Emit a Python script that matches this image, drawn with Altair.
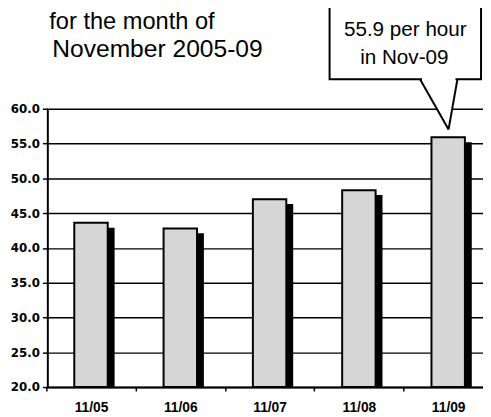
import altair as alt
import pandas as pd

categories = ["11/05", "11/06", "11/07", "11/08", "11/09"]
values = [43.6, 42.8, 47.0, 48.3, 55.9]
y_ticks = [20, 25, 30, 35, 40, 45, 50, 55, 60]
y_base = 20
title_lines = ["for the month of", "November 2005-09"]
callout_lines = ["55.9 per hour", "in Nov-09"]

df = pd.DataFrame({"month": categories, "rate": values})
one = pd.DataFrame({"k": [0]})

x_enc = alt.X("month:N", sort=categories, title=None,
              scale=alt.Scale(range=[-1, 453], paddingInner=0, paddingOuter=0),
              axis=alt.Axis(labelAngle=0, labelFont="Liberation Sans", labelFontWeight="bold",
                            labelFontSize=14, labelColor="black", labelPadding=10,
                            tickBand="extent", tickSize=4, tickColor="black", tickWidth=1.5,
                            domain=True, domainColor="black", domainWidth=2, grid=False))
y_enc = alt.Y("rate:Q", title=None,
              scale=alt.Scale(domain=[20, 60], nice=False, zero=False),
              axis=alt.Axis(values=y_ticks, format=".1f", labelFont="DejaVu Sans",
                            labelFontWeight="bold", labelFontSize=12, labelColor="black",
                            labelPadding=3, tickSize=5, tickColor="black", tickWidth=1.5,
                            domainColor="black", domainWidth=2,
                            grid=True, gridColor="black", gridWidth=1.5))

shadow = alt.Chart(df).mark_bar(color="black", width=36, xOffset=6, yOffset=5).encode(
    x=x_enc, y=y_enc, y2=alt.datum(y_base))
bars = alt.Chart(df).mark_bar(fill="#d6d6d6", stroke="black", strokeWidth=2, width=34).encode(
    x=x_enc, y=y_enc, y2=alt.datum(y_base))

t1 = alt.Chart(one).mark_text(text=title_lines[0], font="Liberation Sans", fontSize=24,
                              align="left", baseline="alphabetic", color="black").encode(
    x=alt.value(2), y=alt.value(-81))
t2 = alt.Chart(one).mark_text(text=title_lines[1], font="Liberation Sans", fontSize=25,
                              align="left", baseline="alphabetic", color="black").encode(
    x=alt.value(5), y=alt.value(-53))

box = alt.Chart(one).mark_rect(fill="white", stroke="black", strokeWidth=2).encode(
    x=alt.value(287), x2=alt.value(441), y=alt.value(-130), y2=alt.value(-30))
cover_box = alt.Chart(one).mark_rule(color="white", strokeWidth=4).encode(
    x=alt.value(381), x2=alt.value(415), y=alt.value(-30))
cover_grid = alt.Chart(one).mark_rule(color="white", strokeWidth=3).encode(
    x=alt.value(397), x2=alt.value(412), y=alt.value(0))
ptr1 = alt.Chart(one).mark_rule(color="black", strokeWidth=2).encode(
    x=alt.value(379), x2=alt.value(408), y=alt.value(-30), y2=alt.value(21))
ptr2 = alt.Chart(one).mark_rule(color="black", strokeWidth=2).encode(
    x=alt.value(408), x2=alt.value(417), y=alt.value(21), y2=alt.value(-30))
c1 = alt.Chart(one).mark_text(text=callout_lines[0], font="Liberation Sans", fontSize=21,
                              align="center", baseline="alphabetic", color="black").encode(
    x=alt.value(364), y=alt.value(-74))
c2 = alt.Chart(one).mark_text(text=callout_lines[1], font="Liberation Sans", fontSize=21,
                              align="center", baseline="alphabetic", color="black").encode(
    x=alt.value(363), y=alt.value(-45))

chart = alt.layer(shadow, bars, t1, t2, box, cover_box, cover_grid, ptr1, ptr2, c1, c2).properties(
    width=443, height=283,
    autosize=alt.AutoSizeParams(type="none"),
    padding={"left": 40, "top": 99, "right": 0, "bottom": 27},
    background="white",
).configure_view(stroke=None)

chart.save("out.html", embed_options={"renderer": "svg", "actions": False})
